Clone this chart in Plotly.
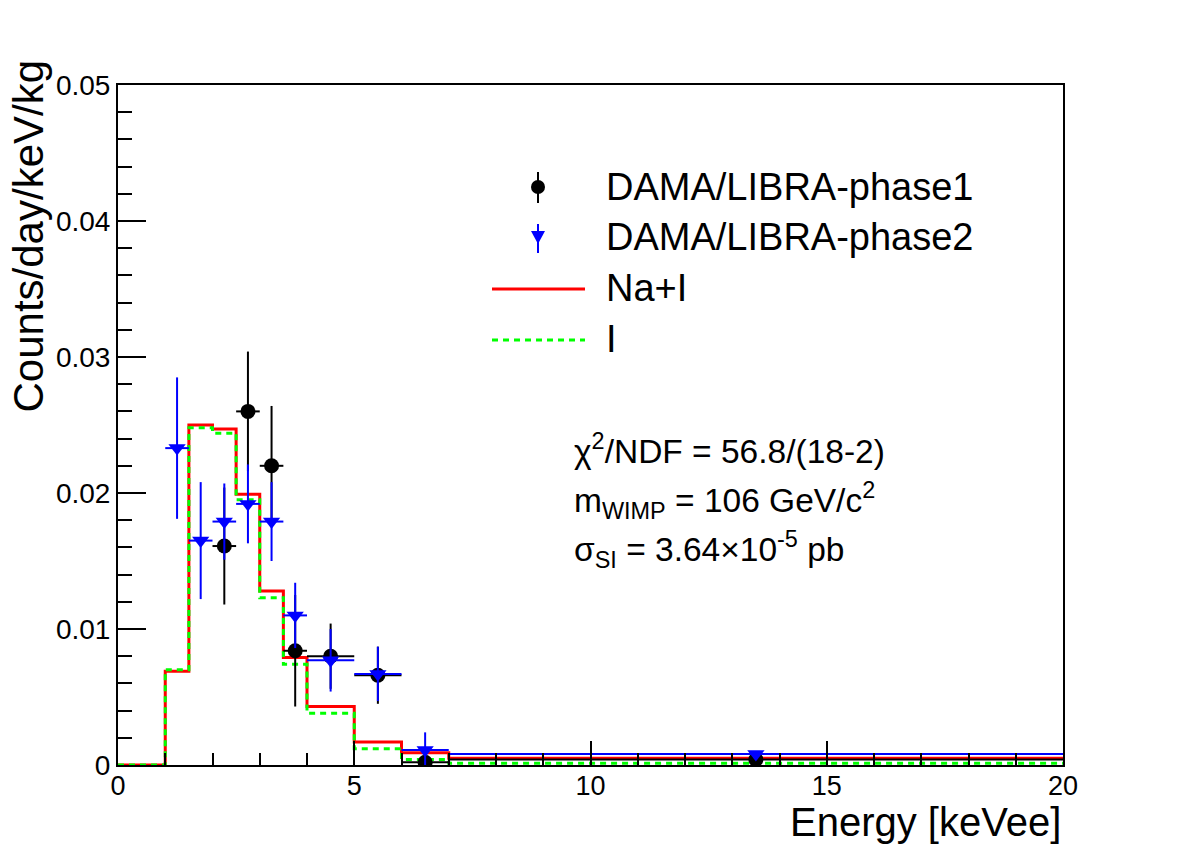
import plotly.graph_objects as go

# ---------------- data ----------------
bin_edges = [0, 1, 1.5, 2, 2.5, 3, 3.5, 4, 5, 6, 7, 20]
nai_values = [0.0, 0.0069, 0.0250, 0.0247, 0.0199, 0.0128, 0.0079, 0.0043, 0.0017, 0.0009, 0.0005]
i_values = [0.0, 0.0070, 0.0248, 0.0244, 0.0195, 0.0123, 0.0074, 0.0038, 0.0012, 0.0004, 0.00012]

p1_x = [2.25, 2.75, 3.25, 3.75, 4.5, 5.5, 6.5, 13.5]
p1_xerr = [0.25, 0.25, 0.25, 0.25, 0.5, 0.5, 0.5, 6.5]
p1_y = [0.0161, 0.0260, 0.0220, 0.0084, 0.0080, 0.0066, 0.0002, 0.0004]
p1_yerr = [0.0043, 0.0044, 0.0044, 0.0041, 0.0024, 0.0021, 0.0002, 0.0001]

p2_x = [1.25, 1.75, 2.25, 2.75, 3.25, 3.75, 4.5, 5.5, 6.5, 13.5]
p2_xerr = [0.25, 0.25, 0.25, 0.25, 0.25, 0.25, 0.5, 0.5, 0.5, 6.5]
p2_y = [0.0233, 0.0165, 0.0179, 0.0192, 0.0179, 0.0110, 0.0077, 0.0067, 0.0011, 0.0008]
p2_yerr = [0.0052, 0.0043, 0.0028, 0.0029, 0.0029, 0.0024, 0.0023, 0.0020, 0.0013, 0.0001]

x_tick_vals = [0, 5, 10, 15, 20]
y_tick_vals = [0, 0.01, 0.02, 0.03, 0.04, 0.05]
y_tick_text = ["0", "0.01", "0.02", "0.03", "0.04", "0.05"]

legend_labels = ["DAMA/LIBRA-phase1", "DAMA/LIBRA-phase2", "Na+I", "I"]

# ---------------- layout geometry ----------------
W, H = 1182, 850
L, R, T, B = 118, 119, 85, 85
PW, PH = W - L - R, H - T - B


def px2x(px):
    return (px - L) / PW


def py2y(py):
    return (H - B - py) / PH


FONT = "Liberation Sans, Arial, sans-serif"

fig = go.Figure()

# histograms (step lines)
fig.add_trace(go.Scatter(
    x=bin_edges, y=nai_values + [nai_values[-1]], mode="lines", line_shape="hv",
    line=dict(color="#ff0000", width=3), name="Na+I", showlegend=False))
fig.add_trace(go.Scatter(
    x=bin_edges, y=i_values + [i_values[-1]], mode="lines", line_shape="hv",
    line=dict(color="#00ff00", width=3, dash="6px,5px"), name="I", showlegend=False))

# data points
fig.add_trace(go.Scatter(
    x=p1_x, y=p1_y, mode="markers", name="DAMA/LIBRA-phase1", showlegend=False,
    marker=dict(symbol="circle", size=15, color="black"),
    error_y=dict(type="data", array=p1_yerr, width=0, thickness=2, color="black"),
    error_x=dict(type="data", array=p1_xerr, width=0, thickness=2, color="black")))
fig.add_trace(go.Scatter(
    x=p2_x, y=p2_y, mode="markers", name="DAMA/LIBRA-phase2", showlegend=False,
    marker=dict(symbol="triangle-down", size=15, color="#0000ff"),
    error_y=dict(type="data", array=p2_yerr, width=0, thickness=2, color="#0000ff"),
    error_x=dict(type="data", array=p2_xerr, width=0, thickness=2, color="#0000ff")))

# ---------------- manual legend ----------------
shapes = []
ann = []
lx = 538
# entry 1
shapes.append(dict(type="line", xref="paper", yref="paper",
                   x0=px2x(lx), x1=px2x(lx), y0=py2y(172), y1=py2y(203),
                   line=dict(color="black", width=2)))
shapes.append(dict(type="circle", xref="paper", yref="paper",
                   x0=px2x(lx - 7), x1=px2x(lx + 7), y0=py2y(194), y1=py2y(180),
                   fillcolor="black", line=dict(color="black", width=0)))
# entry 2
shapes.append(dict(type="line", xref="paper", yref="paper",
                   x0=px2x(lx), x1=px2x(lx), y0=py2y(224), y1=py2y(253),
                   line=dict(color="#0000ff", width=2)))
shapes.append(dict(type="path", xref="paper", yref="paper",
                   path=f"M {px2x(lx-7)},{py2y(231)} L {px2x(lx+7)},{py2y(231)} L {px2x(lx)},{py2y(244)} Z",
                   fillcolor="#0000ff", line=dict(color="#0000ff", width=0)))
# entry 3
shapes.append(dict(type="line", xref="paper", yref="paper",
                   x0=px2x(492), x1=px2x(585), y0=py2y(289), y1=py2y(289),
                   line=dict(color="#ff0000", width=3)))
# entry 4
shapes.append(dict(type="line", xref="paper", yref="paper",
                   x0=px2x(492), x1=px2x(585), y0=py2y(340), y1=py2y(340),
                   line=dict(color="#00ff00", width=3, dash="6px,5px")))

for lbl, yy in zip(legend_labels, [187, 237, 288, 339]):
    ann.append(dict(x=px2x(604), y=py2y(yy), xref="paper", yref="paper",
                    text=lbl, showarrow=False, xanchor="left", yanchor="middle",
                    font=dict(family=FONT, size=38, color="black")))

# stats text
stats = [
    ("χ<sup>2</sup>/NDF = 56.8/(18-2)", 449),
    ("m<sub>WIMP</sub> = 106 GeV/c<sup>2</sup>", 500),
    ("σ<sub>SI</sub> = 3.64×10<sup>-5</sup> pb", 549),
]
for txt, yy in stats:
    ann.append(dict(x=px2x(572), y=py2y(yy), xref="paper", yref="paper",
                    text=txt, showarrow=False, xanchor="left", yanchor="middle",
                    font=dict(family=FONT, size=33.5, color="black")))

# axis titles
ann.append(dict(x=px2x(1063), y=py2y(822), xref="paper", yref="paper",
                text="Energy [keVee]", showarrow=False, xanchor="right", yanchor="middle",
                font=dict(family=FONT, size=40, color="black")))
ann.append(dict(x=px2x(28), y=py2y(58), xref="paper", yref="paper",
                text="Counts/day/keV/kg", showarrow=False, textangle=-90,
                xanchor="center", yanchor="top",
                font=dict(family=FONT, size=42, color="black")))

fig.update_layout(
    width=W, height=H,
    margin=dict(l=L, r=R, t=T, b=B, autoexpand=False),
    paper_bgcolor="white", plot_bgcolor="white",
    showlegend=False,
    shapes=shapes, annotations=ann,
    font=dict(family=FONT, color="black"),
)
fig.update_xaxes(
    range=[0, 20], showgrid=False, zeroline=False,
    showline=True, linecolor="black", linewidth=2, mirror=True,
    ticks="inside", ticklen=24, tickwidth=2, tickcolor="black",
    tickvals=x_tick_vals, ticktext=[str(v) for v in x_tick_vals],
    tickfont=dict(family=FONT, size=27, color="black"),
    ticklabelstandoff=-4,
    minor=dict(ticks="inside", ticklen=12, tickwidth=2, dtick=1, tickcolor="black", showgrid=False),
)
fig.update_yaxes(
    range=[0, 0.05], showgrid=False, zeroline=False,
    showline=True, linecolor="black", linewidth=2, mirror=True,
    ticks="inside", ticklen=28, tickwidth=2, tickcolor="black",
    tickvals=y_tick_vals, ticktext=y_tick_text,
    tickfont=dict(family=FONT, size=28, color="black"),
    minor=dict(ticks="inside", ticklen=14, tickwidth=2, dtick=0.002, tickcolor="black", showgrid=False),
)

fig.write_html("out.html")
